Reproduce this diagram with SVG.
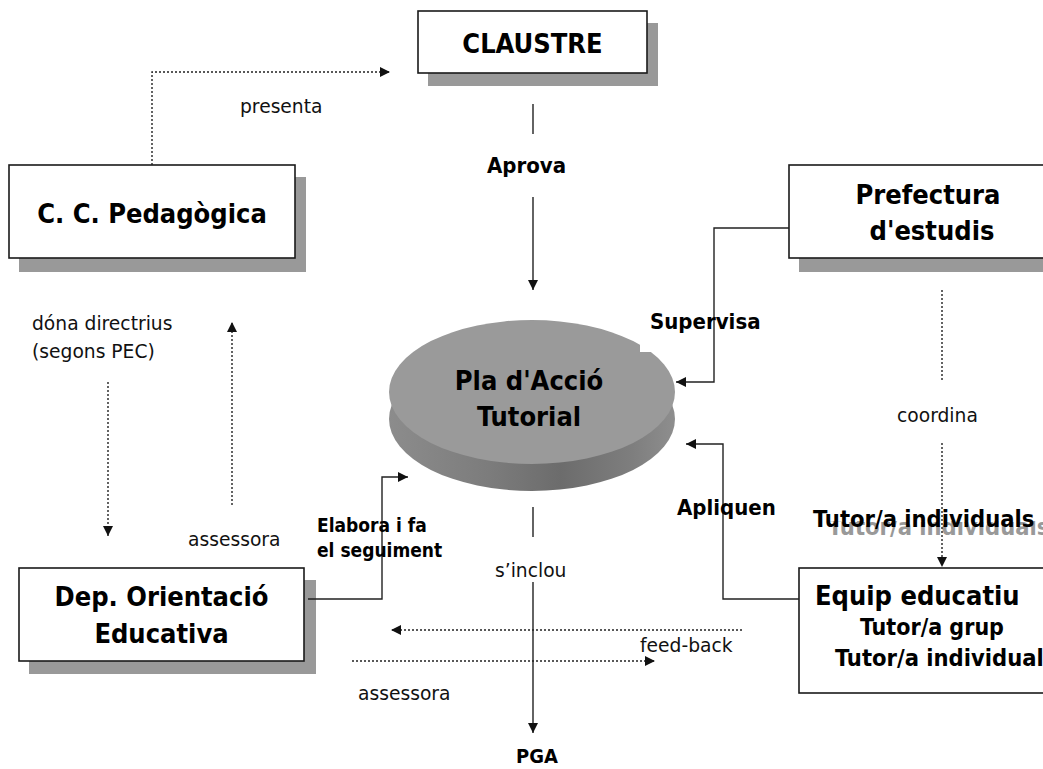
<svg xmlns="http://www.w3.org/2000/svg" width="1043" height="769" viewBox="0 0 1043 769">
<defs>
<style>
.box{fill:#fff;stroke:#1a1a1a;stroke-width:1.6}
.sh{fill:#999}
.bt{font-family:"DejaVu Sans Condensed","DejaVu Sans",sans-serif;font-weight:bold;fill:#000}
.lb{font-family:"DejaVu Sans","Verdana",sans-serif;font-size:18.7px;fill:#111}
.ln{fill:none;stroke:#222;stroke-width:1.4}
.dt{fill:none;stroke:#222;stroke-width:1.4;stroke-dasharray:2 2}
</style>
<marker id="ar" viewBox="0 0 10 10" refX="10" refY="5" markerWidth="10" markerHeight="10" markerUnits="userSpaceOnUse" orient="auto">
<path d="M0,0 L10,5 L0,10 z" fill="#111"/>
</marker>
<linearGradient id="side" x1="0" y1="0" x2="1" y2="0">
<stop offset="0" stop-color="#8c8c8c"/>
<stop offset="0.35" stop-color="#7c7c7c"/>
<stop offset="0.6" stop-color="#6c6c6c"/>
<stop offset="0.85" stop-color="#7e7e7e"/>
<stop offset="1" stop-color="#8e8e8e"/>
</linearGradient>
<clipPath id="grc"><rect x="800" y="521" width="243" height="30"/></clipPath>
</defs>
<rect width="1043" height="769" fill="#fff"/>

<g id="claustre">
<rect class="sh" x="428" y="23" width="230" height="63"/>
<rect class="box" x="418" y="11" width="229" height="62"/>
<text class="bt" font-size="27" x="532.5" y="53" text-anchor="middle">CLAUSTRE</text>
</g>

<g id="ccpedagogica">
<rect class="sh" x="19" y="177" width="287" height="95"/>
<rect class="box" x="9" y="165" width="286" height="93"/>
<text class="bt" font-size="27" x="152" y="223" text-anchor="middle">C. C. Pedagògica</text>
</g>

<g id="prefectura">
<rect class="sh" x="799" y="177" width="260" height="95"/>
<rect class="box" x="789" y="165" width="270" height="93"/>
<text class="bt" font-size="27" x="928" y="204" text-anchor="middle">Prefectura</text>
<text class="bt" font-size="27" x="932" y="240" text-anchor="middle">d'estudis</text>
</g>

<g id="pat">
<ellipse cx="532" cy="419" rx="143" ry="72" fill="url(#side)"/>
<ellipse cx="532" cy="392" rx="143" ry="72" fill="#9a9a9a"/>
<rect x="640" y="300" width="60" height="52" fill="#fff"/>
<text class="bt" font-size="27" x="529" y="390" text-anchor="middle">Pla d'Acció</text>
<text class="bt" font-size="27" x="529" y="426" text-anchor="middle">Tutorial</text>
</g>

<g id="deporientacio">
<rect class="sh" x="29" y="580" width="287" height="94"/>
<rect class="box" x="19" y="568" width="285" height="93"/>
<text class="bt" font-size="27" x="161.5" y="606" text-anchor="middle">Dep. Orientació</text>
<text class="bt" font-size="27" x="161.5" y="643" text-anchor="middle">Educativa</text>
</g>

<g id="equip">
<rect class="box" x="799" y="568" width="260" height="125"/>
<text class="bt" font-size="27" x="815" y="605">Equip educatiu</text>
<text class="bt" font-size="23" x="860" y="635">Tutor/a grup</text>
<text class="bt" font-size="23.5" x="835" y="666">Tutor/a individual</text>
</g>

<g id="pga">
<text class="bt" font-size="20" x="516" y="763">PGA</text>
</g>

<g id="tutorlabel">
<text class="bt" font-size="23.5" x="828" y="535" style="fill:#999" clip-path="url(#grc)">Tutor/a individuals</text>
<text class="bt" font-size="23.5" x="813" y="527">Tutor/a individuals</text>
</g>

<g id="connectors">
<path class="dt" d="M152,165 V72 H390" marker-end="url(#ar)"/>
<path class="ln" d="M533,104 V134"/>
<path class="ln" d="M533,197 V290" marker-end="url(#ar)"/>
<path class="ln" d="M789,228 H714 V382 H676" marker-end="url(#ar)"/>
<path class="dt" d="M942,290 V382"/>
<path class="dt" d="M942,443 V567" marker-end="url(#ar)"/>
<path class="ln" d="M799,599 H723 V444 H686" marker-end="url(#ar)"/>
<path class="ln" d="M308,599 H382 V477 H408" marker-end="url(#ar)"/>
<path class="ln" d="M533,507 V537"/>
<path class="ln" d="M533,582 V733" marker-end="url(#ar)"/>
<path class="dt" d="M742,630 H391" marker-end="url(#ar)"/>
<path class="dt" d="M352,661 H655" marker-end="url(#ar)"/>
<path class="dt" d="M108,382 V536" marker-end="url(#ar)"/>
<path class="dt" d="M232,505 V322" marker-end="url(#ar)"/>
</g>

<g id="labels">
<text class="lb" x="240" y="113">presenta</text>
<text class="bt" font-size="22" x="487" y="173">Aprova</text>
<text class="bt" font-size="22" x="650" y="329">Supervisa</text>
<text class="lb" x="897" y="422">coordina</text>
<text class="lb" x="32" y="330">dóna directrius</text>
<text class="lb" x="32" y="358">(segons PEC)</text>
<text class="lb" x="188" y="546">assessora</text>
<text class="bt" font-size="19" x="317" y="532">Elabora i fa</text>
<text class="bt" font-size="19" x="317" y="557">el seguiment</text>
<text class="bt" font-size="22" x="677" y="515">Apliquen</text>
<text class="lb" x="495" y="577">s’inclou</text>
<text class="lb" x="640" y="652">feed-back</text>
<text class="lb" x="358" y="700">assessora</text>
</g>
</svg>
